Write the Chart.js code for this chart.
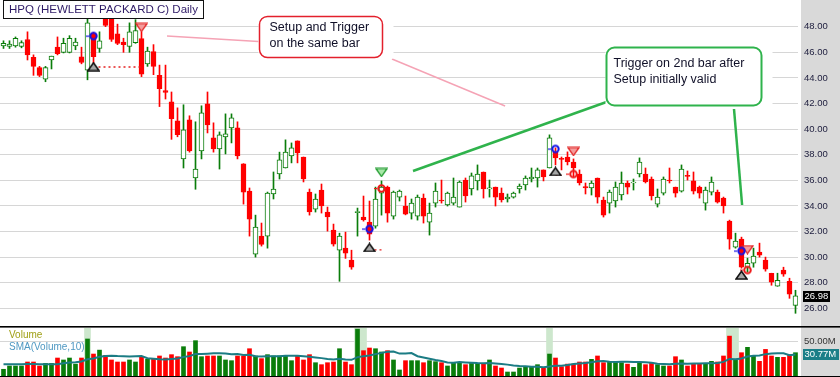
<!DOCTYPE html>
<html><head><meta charset="utf-8">
<script src="https://cdn.jsdelivr.net/npm/chart.js@4/dist/chart.umd.min.js"></script>
<style>
html,body{margin:0;padding:0;background:#fff;width:840px;height:377px;overflow:hidden}
#wrap{position:relative;width:840px;height:377px}
#axisbg{position:absolute;left:801px;top:0;width:39px;height:377px;background:#d9d9d9}
canvas{position:absolute;left:0}
#c1{top:0}
#c2{top:326px}
</style></head><body>
<div id="wrap"><div id="axisbg"></div>
<canvas id="c1" width="840" height="326"></canvas>
<canvas id="c2" width="840" height="51"></canvas>
</div>
<script>
// ---------------- data ----------------
const opens = [
 46.5,46.45,46.5,46.45,47.0,45.6,44.8,43.9,45.4,46.4,
 46.0,46.0,46.5,45.65,44.6,47.5,46.3,49.2,48.9,47.45,
 46.8,46.45,46.75,47.07,45.1,46.05,44.2,43.0,42.13,40.64,
 37.67,40.72,36.18,38.3,41.97,39.31,38.45,39.39,40.1,40.1,
 37.28,35.16,30.23,31.64,31.64,34.93,36.49,36.96,37.9,39.08,
 37.82,35.08,33.75,35.24,33.52,32.11,30.54,30.7,29.76,33.48,
 33.13,32.73,32.42,35.0,35.47,33.2,34.69,33.99,33.44,33.2,
 34.61,32.73,34.22,34.46,34.07,34.22,33.91,36.02,35.32,35.95,
 36.65,35.33,35.47,35.0,34.54,34.69,35.32,35.63,36.1,36.18,
 36.81,36.96,38.22,37.71,37.82,37.43,36.49,35.5,35.4,36.18,
 34.46,34.22,34.38,34.85,35.79,35.8,36.49,36.49,36.1,34.14,
 35.0,36.02,35.47,35.16,36.38,35.95,35.47,34.22,35.08,35.08,
 34.61,32.81,30.78,31.4,29.21,29.52,30.39,29.76,28.74,27.72,
 28.98,28.11,26.23];
const highs = [
 46.9,46.9,47.2,46.9,47.6,45.8,44.9,44.9,45.7,47.2,
 47.1,47.3,47.1,46.4,49.0,47.55,47.6,49.5,49.1,48.2,
 47.1,48.3,48.55,47.6,46.4,46.6,45.0,45.0,42.9,41.66,
 41.9,41.04,40.57,41.82,42.9,40.49,39.78,41.19,41.19,40.57,
 37.3,35.4,33.28,32.66,35.08,36.65,38.2,39.16,38.92,39.08,
 37.82,35.32,34.93,35.71,33.91,32.58,31.87,31.95,30.54,33.83,
 34.77,34.38,35.47,35.95,35.55,35.16,35.24,34.77,34.54,34.85,
 34.93,34.22,35.79,36.02,35.08,36.18,35.95,36.18,36.57,37.2,
 36.65,36.02,35.47,35.4,34.93,35.08,35.71,36.34,36.96,36.96,
 36.81,39.55,38.53,37.82,38.22,37.67,36.81,35.79,35.95,36.18,
 34.69,35.24,35.87,36.65,35.95,36.1,37.75,36.96,36.26,35.32,
 36.26,36.96,35.47,37.2,36.73,36.65,35.55,35.47,36.26,35.24,
 34.69,32.89,31.87,31.56,29.92,30.7,31.09,30.0,28.74,28.74,
 29.21,28.35,27.41];
const lows = [
 46.3,46.3,46.4,46.35,45.4,44.2,44.1,43.7,44.7,45.8,
 45.95,45.95,46.2,45.1,43.85,45.0,46.0,48.0,46.85,46.6,
 46.0,46.0,46.7,44.1,44.9,44.25,41.76,42.35,39.2,39.4,
 36.96,38.2,35.3,37.67,39.7,38.2,36.88,38.06,38.92,37.67,
 34.14,31.64,30.0,30.86,30.7,34.54,36.1,36.96,37.36,37.36,
 35.87,33.28,33.52,33.44,32.03,30.86,28.11,29.9,29.05,31.64,
 32.81,31.33,32.26,33.28,32.73,32.97,34.38,33.3,32.97,32.89,
 32.66,31.72,33.91,34.22,33.99,34.07,33.91,34.3,34.85,35.24,
 34.61,34.69,33.99,34.3,34.3,34.61,35.0,35.24,35.87,35.47,
 35.95,36.96,37.2,36.81,37.2,36.26,35.63,34.93,34.85,34.22,
 33.13,33.44,33.91,34.46,34.93,35.24,36.26,35.79,34.46,33.91,
 34.85,35.79,34.69,35.08,36.02,34.93,34.61,33.67,34.85,34.22,
 33.44,30.62,30.7,29.13,28.82,29.21,30.0,28.9,27.8,27.72,
 28.5,26.78,25.61];
const closes = [
 46.7,46.65,47.1,46.75,45.8,44.9,44.2,44.8,45.7,45.9,
 46.7,47.1,46.8,45.2,48.3,45.65,46.9,48.1,47.0,46.7,
 46.6,47.6,47.7,44.3,46.1,44.9,43.15,42.86,40.82,39.57,
 39.94,38.3,36.88,41.27,40.33,38.45,39.55,39.63,40.88,37.9,
 35.08,32.97,32.34,31.0,35.0,35.32,37.59,38.2,38.53,38.14,
 36.1,33.52,34.54,33.99,33.13,31.01,31.64,30.3,29.21,33.56,
 32.9,31.79,34.54,35.47,33.44,35.08,35.16,33.36,34.22,34.69,
 33.2,33.44,35.16,34.38,35.0,34.69,35.87,34.77,36.34,36.49,
 35.32,35.42,34.69,34.46,34.69,35.0,35.55,36.18,36.26,36.81,
 36.26,39.31,37.75,37.63,37.43,36.96,35.79,35.4,35.79,34.69,
 33.28,35.08,35.47,35.79,35.47,35.87,37.43,35.87,34.77,34.69,
 36.1,35.95,35.0,36.88,36.3,35.16,35.0,35.24,35.87,34.3,
 33.99,31.4,31.25,29.21,29.52,30.07,30.15,29.05,28.04,28.19,
 28.66,27.1,26.98];
// volume in millions
const volumes = [
 9.6,14.3,14.3,14.3,20,20,14.3,18,18,25.7,
 22.9,25.7,17,25.7,52.9,31.4,37,29.5,22.9,20,
 20,22.9,20,27.6,23.8,23.8,28.6,25.7,30.5,27.6,
 41.9,34.3,50.5,27.6,28.6,28.6,28.6,22.9,21.9,28.6,
 28.6,39,28.6,24.8,30.5,28.6,28.6,28.6,21.9,28.6,
 22.9,30.5,19,16.2,19,20,39,20,16.2,67,
 36.2,40,39,34.3,36.2,22.9,8.6,21.9,21.9,21.9,
 19,21.9,20.5,19,14.3,19,19,16.2,18,18,
 18,22.9,14.3,11.4,5.7,5.7,11.4,12.4,13.3,16.2,
 12.4,31.4,25.7,13.3,17,17,20,20,23.8,28.6,
 19,20,20,19,17,12.4,19,16.2,18,16.2,
 14.3,14.3,27.6,22.9,14.3,17,18,18,21,20,
 28.6,57,23.8,33.3,41,28.6,21,38,28.6,26.7,
 26.7,30.5,33.3];
// SMA(Volume,10) line as drawn, millions
const smaVolume = [
 16.8,16.8,16.9,16.9,17.0,17.0,16.8,16.8,16.8,16.85,
 18.18,19.32,19.59,20.73,24.02,25.16,27.43,28.58,29.07,28.5,
 28.21,27.93,28.23,28.42,25.51,24.75,23.91,23.53,24.29,25.05,
 27.24,28.38,31.43,31.43,31.91,32.39,32.39,32.11,31.25,31.35,
 30.02,30.49,28.3,28.02,28.21,28.21,28.21,28.78,28.78,28.78,
 28.21,27.36,26.4,25.54,24.39,23.53,24.57,23.71,23.14,26.98,
 28.31,29.26,31.26,33.07,34.79,35.08,32.04,32.23,32.8,28.29,
 26.57,24.76,22.91,21.38,19.19,18.8,19.84,19.27,18.88,18.49,
 18.39,18.49,17.87,17.11,16.25,14.92,14.16,13.78,13.31,13.13,
 12.57,13.42,14.56,14.75,15.88,17.01,17.87,18.63,19.68,20.92,
 21.58,20.44,19.87,20.44,20.44,19.98,19.88,19.5,18.92,17.68,
 17.21,16.64,17.4,17.79,17.52,17.98,17.88,18.06,18.36,18.74,
 20.17,24.44,24.06,25.1,27.77,28.93,29.23,31.23,31.99,32.66,
 32.47,29.82,30.77];
const priceTicks = [26,28,30,32,34,36,38,40,42,44,46,48];
const volumeTicks = [50];
const highlightBars = [14,59,60,91,121,122];
// signal markers: bar index and price level
const setupBars = [15,61,92,123];
const setupPrices = [47.27,32.2,38.45,30.48];
const setupLevelBars = [15,61,92,123];
const setupLevelPrices = [44.89,30.75,36.69,28.6];
const shortTriggerBars = [23,95,124];
const shortTriggerPrices = [47.94,38.25,30.59];
const longTriggerBars = [63];
const longTriggerPrices = [36.61];
const triggerBars = [63,95,124];
const triggerPrices = [35.36,36.49,28.99];
const stopLines = [[15,23,44.85],[61,63,30.56],[92,93,36.41]];
const titleText = 'HPQ (HEWLETT PACKARD C) Daily';
const calloutTexts = [['Setup and Trigger','on the same bar'],['Trigger on 2nd bar after','Setup initially valid']];

// ---------------- helpers ----------------
const N = closes.length;
const idx = closes.map((_, i) => i);
const isUp = idx.map(i => closes[i] >= opens[i]);
const GREEN = '#0a7d0a', RED = '#ff0000';
const FONT = '"Liberation Sans", Arial, sans-serif';
const XMIN = -0.5 - 1/12, XMAX = XMIN + N;

function mk(w, h, draw) { const c = document.createElement('canvas'); c.width = w; c.height = h; draw(c.getContext('2d')); return c; }
const triUpGray = mk(13, 10, g => { g.beginPath(); g.moveTo(6.5, 1.2); g.lineTo(12, 9); g.lineTo(1, 9); g.closePath(); g.fillStyle = '#a6a6a6'; g.fill(); g.lineWidth = 1.5; g.strokeStyle = '#111'; g.stroke(); });
const triDownRed = mk(13, 10, g => { g.beginPath(); g.moveTo(1, 1.2); g.lineTo(12, 1.2); g.lineTo(6.5, 9); g.closePath(); g.fillStyle = '#f49c9c'; g.fill(); g.lineWidth = 1.3; g.strokeStyle = '#e22424'; g.stroke(); });
const triDownGreen = mk(13, 10, g => { g.beginPath(); g.moveTo(1, 1.2); g.lineTo(12, 1.2); g.lineTo(6.5, 9); g.closePath(); g.fillStyle = '#a8e8a8'; g.fill(); g.lineWidth = 1.3; g.strokeStyle = '#1e9a2c'; g.stroke(); });
const ringBlue = mk(17, 11, g => { g.beginPath(); g.arc(8.5, 5.5, 3.2, 0, 2*Math.PI); g.lineWidth = 2; g.strokeStyle = '#1414e8'; g.stroke(); g.fillStyle = '#1414e8'; g.fillRect(1, 5, 3, 1.2); });
const ringRed = mk(17, 11, g => { g.beginPath(); g.arc(8.5, 5.5, 3.3, 0, 2*Math.PI); g.lineWidth = 2; g.strokeStyle = '#ee1b1b'; g.stroke(); g.fillStyle = '#ee1b1b'; g.fillRect(1, 5, 3, 1.2); });

function markerSet(bars, prices, img) {
  return { type: 'line', showLine: false, data: bars.map((b, k) => ({x: b, y: prices[k]})),
    pointStyle: img, pointRadius: 5, pointHoverRadius: 5, order: 0 };
}

const stopDatasets = stopLines.map(s => ({ type: 'line', data: [{x: s[0], y: s[2]}, {x: s[1], y: s[2]}],
  borderColor: '#e52222', borderWidth: 1.3, borderDash: [2, 3], pointRadius: 0, order: 1 }));

// annotation geometry in data units (bar index, price)
const callouts = [
  {x0: 42.6, x1: 63.1, y0: 48.84, y1: 45.63, color: '#e3202c', lw: 1.5, padX: 10, padY: 11, lines: calloutTexts[0]},
  {x0: 100.4, x1: 126.3, y0: 46.41, y1: 41.88, color: '#2fb34c', lw: 2, padX: 7, padY: 16, lines: calloutTexts[1]}
];
const connectors = [
  {from: [27.25, 47.27], to: [42.5, 46.84], color: '#f5a3b5', w: 1.5},
  {from: [64.75, 45.48], to: [83.6, 41.8], color: '#f5a3b5', w: 1.5},
  {from: [68.25, 36.73], to: [100.5, 42.12], color: '#2fb34c', w: 2.5},
  {from: [121.75, 41.57], to: [123.1, 34.07], color: '#2fb34c', w: 2.5}
];

function rr(ctx, x, y, w, h, r) {
  ctx.beginPath(); ctx.moveTo(x + r, y); ctx.arcTo(x + w, y, x + w, y + h, r); ctx.arcTo(x + w, y + h, x, y + h, r);
  ctx.arcTo(x, y + h, x, y, r); ctx.arcTo(x, y, x + w, y, r); ctx.closePath();
}

const priceDecor = {
  id: 'priceDecor',
  afterDatasetsDraw(chart) {
    const {ctx, scales: {x, y}} = chart;
    const X = v => x.getPixelForValue(v), Y = v => y.getPixelForValue(v);
    ctx.save();
    connectors.forEach(c => { ctx.beginPath(); ctx.strokeStyle = c.color; ctx.lineWidth = c.w;
      ctx.moveTo(X(c.from[0]), Y(c.from[1])); ctx.lineTo(X(c.to[0]), Y(c.to[1])); ctx.stroke(); });
    callouts.forEach(b => {
      const l = Math.round(X(b.x0)) + 0.5, r = Math.round(X(b.x1)) + 0.5, t = Math.round(Y(b.y0)) + 0.5, bt = Math.round(Y(b.y1)) + 0.5;
      ctx.fillStyle = '#fff'; ctx.fillRect(l - 1, t - 1, r - l + 12, bt - t + 2);
      rr(ctx, l, t, r - l, bt - t, 8); ctx.lineWidth = b.lw; ctx.strokeStyle = b.color; ctx.stroke();
      ctx.fillStyle = '#101028'; ctx.font = '12.5px ' + FONT; ctx.textBaseline = 'middle'; ctx.textAlign = 'left';
      b.lines.forEach((s, k) => ctx.fillText(s, l + b.padX, t + b.padY + k * 16.5));
    });
    // title box
    ctx.fillStyle = '#fff'; ctx.fillRect(3.5, 0.5, 200, 18);
    ctx.strokeStyle = '#111'; ctx.lineWidth = 1; ctx.strokeRect(3.5, 0.5, 200, 18);
    ctx.fillStyle = '#2e1a66'; ctx.font = '11.5px ' + FONT; ctx.textBaseline = 'middle'; ctx.textAlign = 'left';
    ctx.fillText(titleText, 9, 10);
    // last price tag
    const last = closes[N - 1], ly = Math.round(Y(last));
    ctx.fillStyle = '#000'; ctx.fillRect(803, ly - 5, 27, 11);
    ctx.fillStyle = '#fff'; ctx.font = '9.5px ' + FONT; ctx.fillText(last.toFixed(2), 804.5, ly + 0.5);
    ctx.restore();
  }
};

function fitRight(s) { s.width = 42; s.paddingTop = 0; s.paddingBottom = 0; }

new Chart(document.getElementById('c1'), {
  type: 'bar',
  data: { datasets: [
    { type: 'bar', data: idx.map(i => ({x: i, y: [lows[i], highs[i]]})), backgroundColor: idx.map(i => isUp[i] ? GREEN : RED),
      barThickness: 1, grouped: false, borderWidth: 0, order: 3 },
    { type: 'bar', data: idx.map(i => ({x: i, y: [opens[i], closes[i]]})), backgroundColor: idx.map(i => isUp[i] ? '#ffffff' : RED),
      borderColor: idx.map(i => isUp[i] ? GREEN : RED), borderWidth: 1, borderSkipped: false, barThickness: 5, grouped: false, order: 2 },
    ...stopDatasets,
    markerSet(setupLevelBars, setupLevelPrices, triUpGray),
    markerSet(setupBars, setupPrices, ringBlue),
    markerSet(shortTriggerBars, shortTriggerPrices, triDownRed),
    markerSet(longTriggerBars, longTriggerPrices, triDownGreen),
    markerSet(triggerBars, triggerPrices, ringRed)
  ]},
  options: {
    responsive: false, animation: false, events: [],
    layout: {padding: 0, autoPadding: false},
    plugins: {legend: {display: false}, tooltip: {enabled: false}},
    scales: {
      x: {type: 'linear', min: XMIN, max: XMAX, offset: false, display: false},
      y: {position: 'right', min: 24.617, max: 50.086, beginAtZero: false,
        afterFit: fitRight,
        afterBuildTicks(s) { s.ticks = priceTicks.map(v => ({value: v})); },
        grid: {color: '#d6d6d6', lineWidth: 1, drawTicks: false}, border: {display: false},
        ticks: {padding: 6, color: '#1c1c3c', font: {family: FONT, size: 9.5}, callback: v => Number(v).toFixed(2)}}
    }
  },
  plugins: [priceDecor]
});

const VMAX = 68.6;
const volDecor = {
  id: 'volDecor',
  afterDraw(chart) {
    const {ctx, scales: {y}} = chart;
    ctx.save();
    ctx.fillStyle = '#000'; ctx.fillRect(0, 0, 840, 1.6); ctx.fillRect(0, 50, 840, 1);
    ctx.font = '10px ' + FONT; ctx.textBaseline = 'middle'; ctx.textAlign = 'left';
    ctx.fillStyle = '#a0a016'; ctx.fillText('Volume', 9, 9);
    ctx.fillStyle = '#4f98c2'; ctx.fillText('SMA(Volume,10)', 9, 21);
    const s = smaVolume[N - 1], sy = Math.round(y.getPixelForValue(s));
    ctx.fillStyle = '#1c7f88'; ctx.fillRect(803, sy - 5, 36, 11);
    ctx.fillStyle = '#fff'; ctx.font = '9.5px ' + FONT; ctx.fillText(s.toFixed(2) + 'M', 804.5, sy + 0.5);
    ctx.restore();
  }
};

new Chart(document.getElementById('c2'), {
  type: 'bar',
  data: { datasets: [
    { type: 'bar', data: highlightBars.map(b => ({x: b, y: [0, VMAX]})), backgroundColor: '#cde7cd', barThickness: 6, grouped: false, order: 5 },
    { type: 'bar', data: idx.map(i => ({x: i, y: volumes[i]})), backgroundColor: idx.map(i => isUp[i] ? GREEN : RED),
      barThickness: 4, grouped: false, borderWidth: 0, order: 3 },
    { type: 'line', data: idx.map(i => ({x: i, y: smaVolume[i]})), borderColor: '#1b7c84', borderWidth: 2, pointRadius: 0, tension: 0, order: 1 }
  ]},
  options: {
    responsive: false, animation: false, events: [],
    layout: {padding: {top: 2, bottom: 1, left: 0, right: 0}, autoPadding: false},
    plugins: {legend: {display: false}, tooltip: {enabled: false}},
    scales: {
      x: {type: 'linear', min: XMIN, max: XMAX, offset: false, display: false},
      y: {position: 'right', min: 0, max: VMAX, beginAtZero: true,
        afterFit: fitRight,
        afterBuildTicks(s) { s.ticks = volumeTicks.map(v => ({value: v})); },
        grid: {color: '#d6d6d6', lineWidth: 1, drawTicks: false}, border: {display: false},
        ticks: {padding: 6, color: '#333', font: {family: FONT, size: 9.5}, callback: v => Number(v).toFixed(2) + 'M'}}
    }
  },
  plugins: [volDecor]
});
</script>
</body></html>
